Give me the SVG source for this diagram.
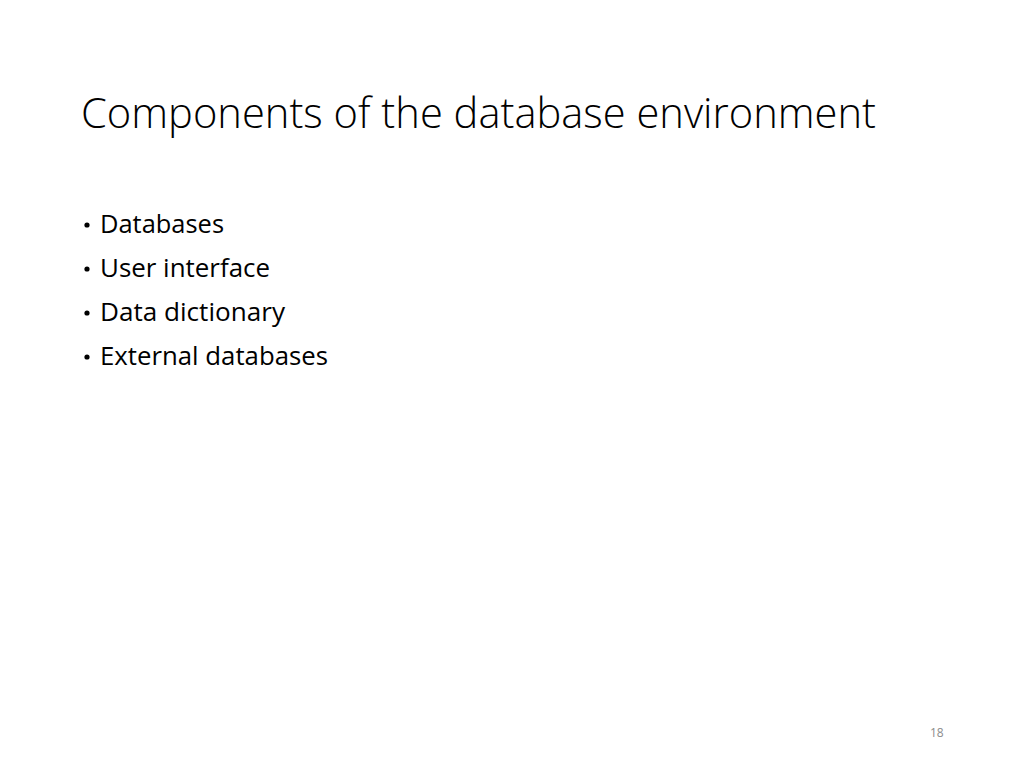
<svg xmlns="http://www.w3.org/2000/svg" width="1024" height="768" viewBox="0 0 1024 768">
<style>
.t{font-family:"Open Sans","Liberation Sans",sans-serif;fill:#000}
.title{font-size:43px;font-weight:300}
.b{font-size:26px}
.pg{font-family:"Open Sans","Liberation Sans",sans-serif;font-size:12px;fill:#8c8c8c}
</style>
<rect width="1024" height="768" fill="#fff"/>
<g id="title"><text class="t title" x="81" y="128" textLength="795" lengthAdjust="spacingAndGlyphs">Components of the database environment</text></g>
<g id="bullets">
<circle cx="87" cy="225" r="2.6" fill="#000"/>
<text class="t b" x="100" y="233" textLength="124" lengthAdjust="spacingAndGlyphs">Databases</text>
<circle cx="87" cy="269" r="2.6" fill="#000"/>
<text class="t b" x="100" y="277" textLength="170" lengthAdjust="spacingAndGlyphs">User interface</text>
<circle cx="87" cy="313" r="2.6" fill="#000"/>
<text class="t b" x="100" y="321" textLength="185" lengthAdjust="spacingAndGlyphs">Data dictionary</text>
<circle cx="87" cy="357" r="2.6" fill="#000"/>
<text class="t b" x="100" y="365" textLength="228" lengthAdjust="spacingAndGlyphs">External databases</text>
</g>
<g id="page"><text class="pg" x="930" y="737">18</text></g>
</svg>
